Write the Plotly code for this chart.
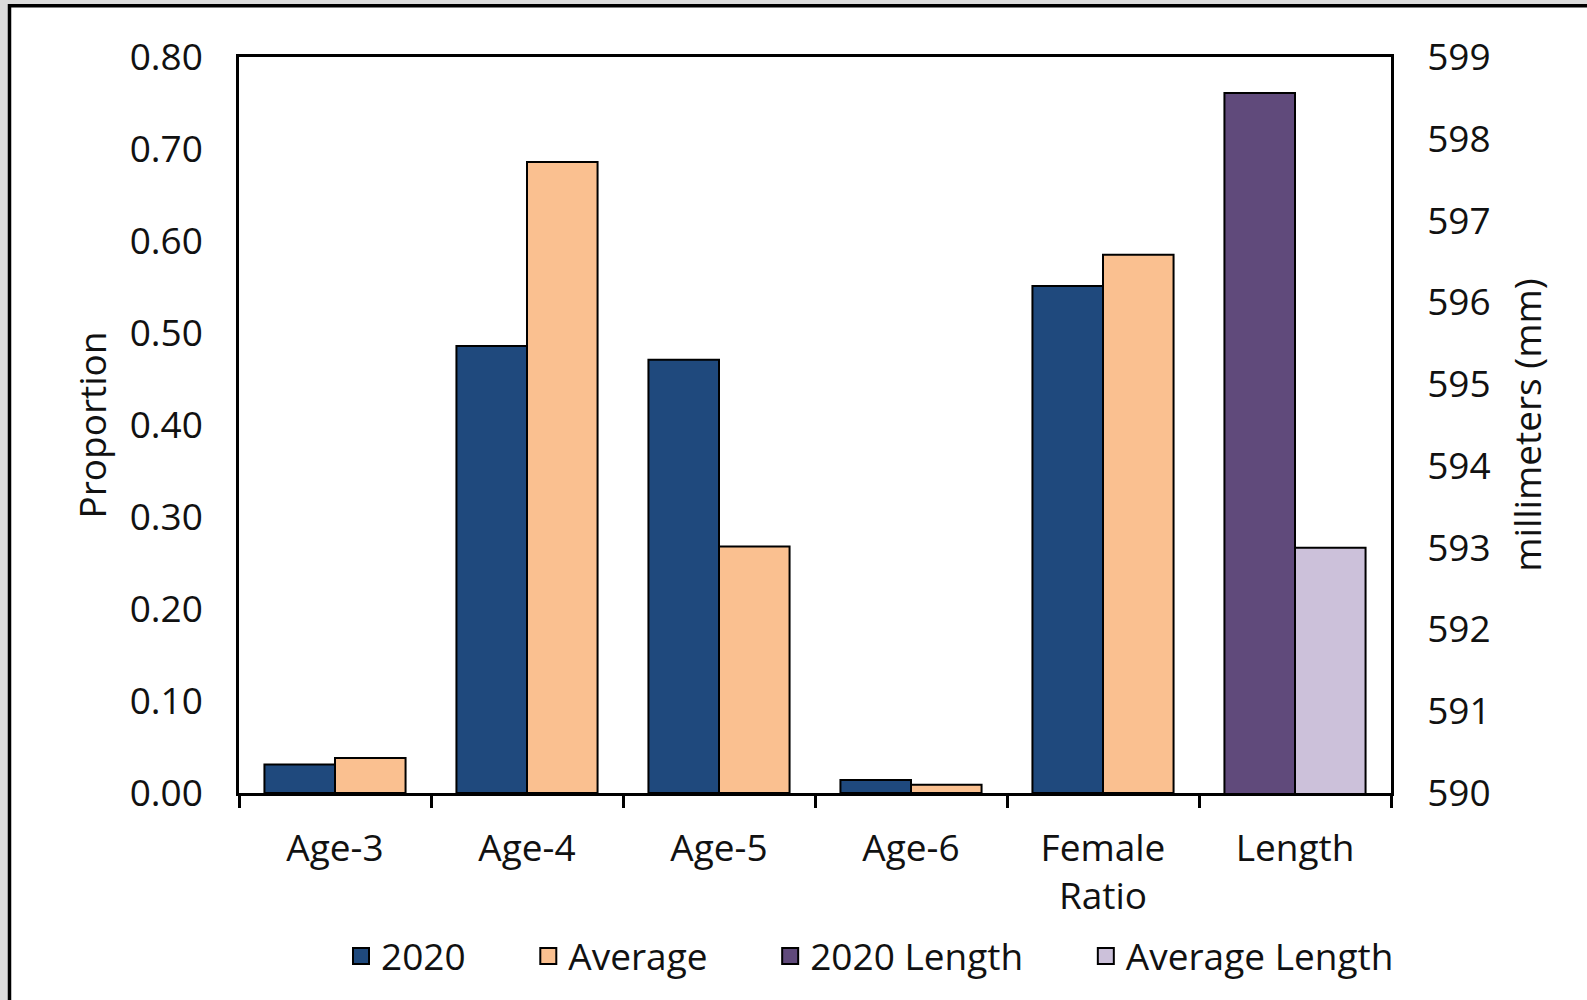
import plotly.graph_objects as go

categories = ["Age-3", "Age-4", "Age-5", "Age-6", "Female<br>Ratio", "Length"]
prop_categories = categories[:5]
values_2020 = [0.031, 0.486, 0.471, 0.014, 0.551]
values_avg = [0.038, 0.686, 0.268, 0.009, 0.585]
length_2020 = [598.56]
length_avg = [593.0]
left_ticks = [0.0, 0.1, 0.2, 0.3, 0.4, 0.5, 0.6, 0.7, 0.8]
right_ticks = list(range(590, 600))
series_names = ["2020", "Average", "2020 Length", "Average Length"]
series_colors = ["#1F497D", "#FAC090", "#604A7B", "#CCC1DA"]

FONT = "Open Sans"
TXT = "#111111"
FS = 37
line = dict(color="black", width=2)
NB = "\u00a0"

L, R, T, B = 239, 196, 57, 203
PW = 1587 - L - R
PH = 1000 - T - B

fig = go.Figure()
fig.add_trace(go.Bar(name=series_names[0], x=prop_categories, y=values_2020, showlegend=False,
                     marker=dict(color=series_colors[0], line=line), offsetgroup="a"))
fig.add_trace(go.Bar(name=series_names[1], x=prop_categories, y=values_avg, showlegend=False,
                     marker=dict(color=series_colors[1], line=line), offsetgroup="b"))
fig.add_trace(go.Bar(name=series_names[2], x=["Length"], y=length_2020, yaxis="y2", showlegend=False,
                     marker=dict(color=series_colors[2], line=line), offsetgroup="a"))
fig.add_trace(go.Bar(name=series_names[3], x=["Length"], y=length_avg, yaxis="y2", showlegend=False,
                     marker=dict(color=series_colors[3], line=line), offsetgroup="b"))

# legend entries (square swatches)
for i, (nm, col) in enumerate(zip(series_names, series_colors)):
    label = nm + (NB * 6 if i < len(series_names) - 1 else "")
    fig.add_trace(go.Scatter(name=label, x=[None], y=[None], mode="markers",
                             marker=dict(symbol="square", size=16, color=col,
                                         line=dict(color="black", width=2)),
                             showlegend=True, hoverinfo="skip"))

fig.update_layout(
    width=1587, height=1000,
    margin=dict(l=L, r=R, t=T, b=B),
    paper_bgcolor="#DCDCDC",
    plot_bgcolor="rgba(0,0,0,0)",
    barmode="group",
    bargap=0.265, bargroupgap=0,
    font=dict(family=FONT, size=FS, color=TXT),
    showlegend=True,
    legend=dict(orientation="h", x=(870 - L) / PW, xanchor="center", y=-0.18, yanchor="top",
                font=dict(size=FS, color=TXT), bgcolor="rgba(0,0,0,0)", traceorder="normal"),
    xaxis=dict(categoryorder="array", categoryarray=categories, type="category",
               range=[-0.5, 5.5],
               showline=True, linecolor="black", linewidth=2.5, mirror=True,
               ticks="outside", tickson="boundaries", ticklen=12, tickwidth=2.5, tickcolor="black",
               ticklabelstandoff=21,
               tickfont=dict(size=FS, color=TXT), showgrid=False),
    yaxis=dict(range=[0, 0.8], tickvals=left_ticks, tickformat=".2f",
               showline=True, linecolor="black", linewidth=2.5, mirror=True,
               ticks="outside", ticklen=26, tickcolor="rgba(0,0,0,0)",
               showgrid=False, zeroline=False,
               tickfont=dict(size=FS, color=TXT),
               title=dict(text="Proportion", font=dict(size=FS, color=TXT), standoff=12)),
    yaxis2=dict(range=[590, 599], tickvals=right_ticks, overlaying="y", side="right",
                showline=True, linecolor="black", linewidth=2.5,
                ticks="outside", ticklen=26, tickcolor="rgba(0,0,0,0)",
                showgrid=False, zeroline=False,
                tickfont=dict(size=FS, color=TXT),
                title=dict(text="millimeters (mm)", font=dict(size=FS, color=TXT), standoff=26)),
    shapes=[dict(type="rect", xref="paper", yref="paper", layer="below",
                 x0=(9.5 - L) / PW, x1=1.4, y0=-0.4, y1=(1000 - B - 5.5) / PH,
                 fillcolor="white", line=dict(color="black", width=3.5))],
)

fig.write_html("out.html", config={"displayModeBar": False},
               post_script="document.body.style.margin='0';document.body.style.overflow='hidden';")
